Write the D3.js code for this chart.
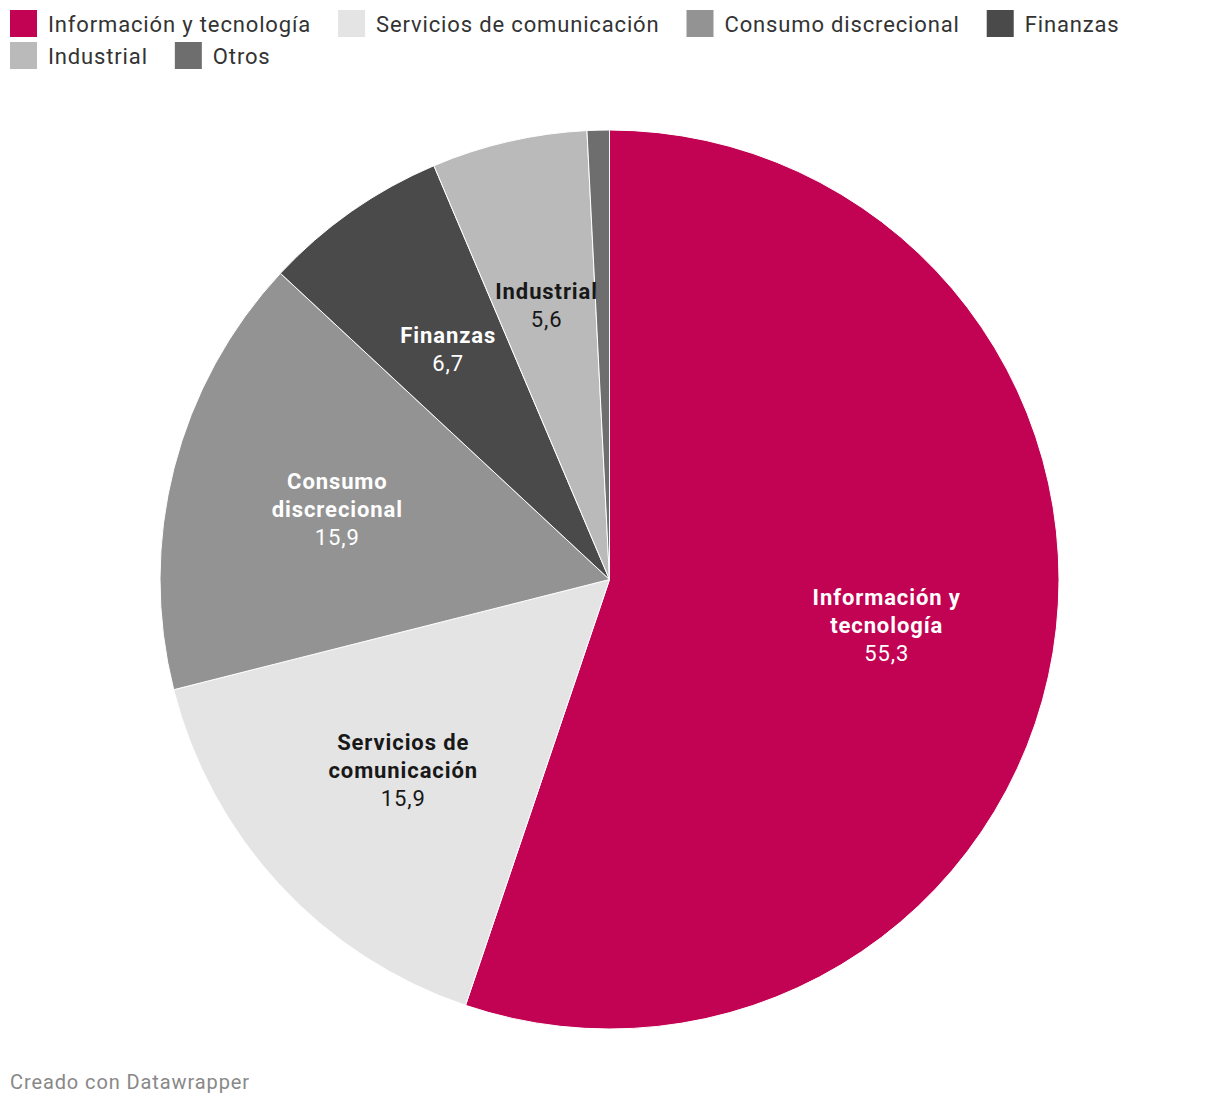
<!DOCTYPE html>
<html>
<head>
<meta charset="utf-8">
<script src="https://cdn.jsdelivr.net/npm/d3@7"></script>
<style>
  body { margin: 0; background: #fff; font-family: Roboto, "Noto Sans", sans-serif; }
</style>
</head>
<body>
<div id="chart"></div>
<script>
// data
var categories = ["Información y tecnología", "Servicios de comunicación", "Consumo discrecional", "Finanzas", "Industrial", "Otros"];
var values = [55.3, 15.9, 15.9, 6.7, 5.6, 0.8];
var colors = ["#c20252", "#e4e4e4", "#939393", "#4a4a4a", "#bababa", "#6e6e6e"];
var labelLines = [["Información y", "tecnología"], ["Servicios de", "comunicación"], ["Consumo", "discrecional"], ["Finanzas"], ["Industrial"], []];
var labelColors = ["#fff", "#181818", "#fff", "#fff", "#181818", "#fff"];

var width = 1220, height = 1106;
var cx = 609.5, cy = 579.5, radius = 449.5;

var svg = d3.select("#chart")
  .append("svg")
    .attr("width", width)
    .attr("height", height);

// legend
var legend = svg.append("g");
var lx = 10, ly = 10, rowH = 32;
categories.forEach(function(c, i) {
  var g = legend.append("g");
  g.append("rect").attr("x", 0).attr("y", 0).attr("width", 27).attr("height", 27).attr("fill", colors[i]);
  var t = g.append("text").attr("x", 38).attr("y", 22).text(c)
    .style("font-size", "22px").style("letter-spacing", "0.85px").attr("fill", "#333");
  var w = 38 + t.node().getComputedTextLength() + 27;
  if (lx + w - 27 > width - 10) { lx = 10; ly += rowH; }
  g.attr("transform", "translate(" + lx + "," + ly + ")");
  lx += w;
});

var pie = d3.pie().sort(null).value(function(d) { return d; });
var arcs = pie(values);
var arc = d3.arc().innerRadius(0).outerRadius(radius);
var labelArc = d3.arc().innerRadius(radius * 0.625).outerRadius(radius * 0.625);

var chart = svg.append("g").attr("transform", "translate(" + cx + "," + cy + ")");

chart.selectAll("path")
  .data(arcs)
  .enter()
  .append("path")
    .attr("d", arc)
    .attr("fill", function(d, i) { return colors[i]; })
    .attr("stroke", "#fff")
    .attr("stroke-width", 1);

// slice labels
var fmt = function(v) { return String(v).replace(".", ","); };
arcs.forEach(function(d, i) {
  if (labelLines[i].length === 0) return;
  var p = labelArc.centroid(d);
  var lines = labelLines[i].length + 1;
  var lh = 28;
  var y0 = p[1] - (lines - 1) * lh / 2;
  var t = chart.append("text")
    .attr("text-anchor", "middle")
    .attr("fill", labelColors[i])
    .style("font-size", "22px")
    .style("letter-spacing", "0.9px");
  labelLines[i].forEach(function(s, j) {
    t.append("tspan").attr("x", p[0]).attr("y", y0 + j * lh).attr("dy", "0.35em")
      .style("font-weight", "bold").text(s);
  });
  t.append("tspan").attr("x", p[0]).attr("y", y0 + labelLines[i].length * lh).attr("dy", "0.35em")
    .text(fmt(values[i]));
});

// footer
svg.append("text")
  .attr("x", 10).attr("y", 1089)
  .style("font-size", "20px")
  .style("letter-spacing", "0.9px")
  .attr("fill", "#888")
  .text("Creado con Datawrapper");
</script>
</body>
</html>
